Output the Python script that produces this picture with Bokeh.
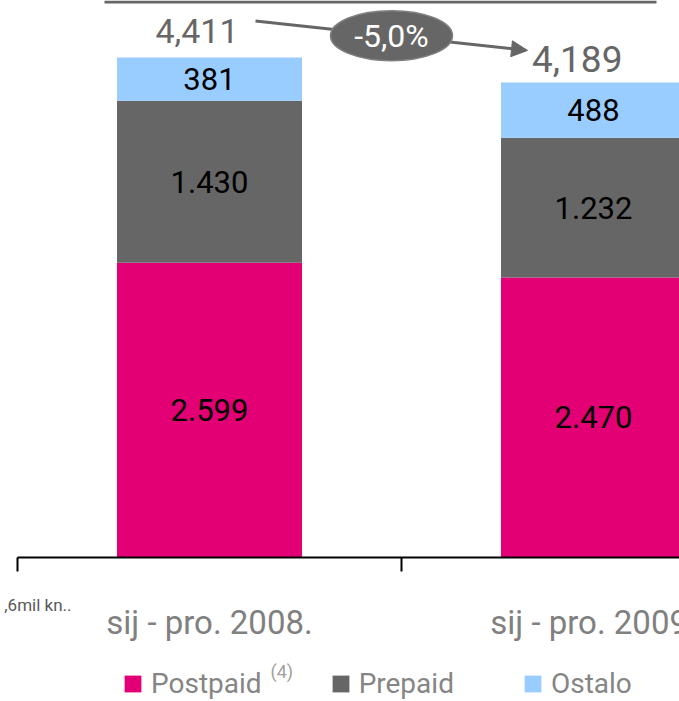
from bokeh.plotting import figure
from bokeh.models import (Range1d, ColumnDataSource, Legend, LegendItem, Label,
                          Arrow, NormalHead, BoxAnnotation)
from bokeh.core.properties import value
from bokeh.embed import file_html
from bokeh.resources import INLINE

# ---------------- data ----------------
categories = ["sij - pro. 2008.", "sij - pro. 2009."]
series_names = ["Postpaid", "Prepaid", "Ostalo"]
postpaid = [2599, 2470]
prepaid = [1430, 1232]
ostalo = [381, 488]
totals = [4411, 4189]
unit_note = ",6mil kn.."
footnote = "(4)"

# ---------------- style / layout ----------------
colors = ["#E20074", "#666666", "#99CCFF"]
W, H = 679, 701
CAT_PX = 384.0                  # pixels per category
Y_PX_PER_UNIT = 500.0 / 4410.0  # pixels per value unit
LEFT_PAD_PX = 17                # first category boundary, px from left edge
BASE_PX = 557                   # baseline, px from top edge

px_x = 1.0 / CAT_PX
px_y = 1.0 / Y_PX_PER_UNIT

p = figure(width=W, height=H,
           x_range=Range1d(-LEFT_PAD_PX * px_x, (W - LEFT_PAD_PX) * px_x),
           y_range=Range1d(-(H - BASE_PX) * px_y, BASE_PX * px_y),
           output_backend="svg", toolbar_location=None,
           x_axis_location=None, y_axis_location=None,
           min_border=0, outline_line_color=None,
           background_fill_color="white", border_fill_color="white")
p.grid.visible = False

xs = [i + 0.5 for i in range(len(categories))]
bounds = list(range(len(categories) + 1))
source = ColumnDataSource(dict(x=xs, Postpaid=postpaid, Prepaid=prepaid, Ostalo=ostalo))
renderers = p.vbar_stack(series_names, x="x", width=185 * px_x, fill_color=colors,
                         line_color=None, source=source)

# category axis: line, boundary ticks, labels
p.segment(x0=[bounds[0]], y0=[0], x1=[bounds[-1]], y1=[0],
          line_color="black", line_width=2)
p.segment(x0=bounds, y0=[0] * len(bounds), x1=bounds, y1=[-14 * px_y] * len(bounds),
          line_color="black", line_width=2)
p.text(x=xs, y=[-(621.5 - BASE_PX) * px_y] * len(xs), text=categories,
       text_align="center", text_baseline="middle",
       text_font=value("Roboto"), text_font_size="33px", text_color="#808080")

# segment labels
lx, ly, lt = [], [], []
tops = []
for i, xv in enumerate(xs):
    base = 0
    for s in (postpaid, prepaid, ostalo):
        v = s[i]
        lx.append(xv)
        ly.append(base + v / 2)
        lt.append(f"{v:,}".replace(",", "."))
        base += v
    tops.append(base)
p.text(x=lx, y=ly, text=lt, text_align="center", text_baseline="middle",
       text_font=value("Roboto"), text_font_size="31px", text_color="black")

# totals
total_dx_px = [-12.5, -16.3]
total_dy_px = [26.7, 23.1]
total_sizes = ["34px", "37px"]
tsrc = ColumnDataSource(dict(
    x=[xs[i] + total_dx_px[i] * px_x for i in range(len(xs))],
    y=[tops[i] + total_dy_px[i] * px_y for i in range(len(xs))],
    text=[f"{t:,}" for t in totals],
    size=total_sizes))
p.text(x="x", y="y", text="text", text_font_size="size", source=tsrc,
       text_align="center", text_baseline="middle",
       text_font=value("Roboto"), text_color="#666666")

# change arrow with ellipse badge
x0 = xs[0] + 46 * px_x
y0 = tops[0] + 36.5 * px_y
x1 = xs[1] - 66 * px_x
y1 = tops[1] + 32 * px_y
arrow = Arrow(end=NormalHead(size=16, fill_color="#666666", line_color="#666666"),
              x_start=x0, y_start=y0, x_end=x1, y_end=y1,
              line_color="#666666", line_width=3, level="underlay")
p.add_layout(arrow)
cx, cy = (x0 + x1) / 2, (y0 + y1) / 2
p.ellipse(x=[cx], y=[cy], width=122 * px_x, height=50 * px_y,
          fill_color="#666666", line_color="#808080", line_width=1.5)
pct = (totals[1] - totals[0]) / totals[0] * 100
p.text(x=[cx], y=[cy], text=[f"{pct:.1f}%".replace(".", ",")], text_align="center",
       text_baseline="middle", text_font=value("Roboto"), text_font_size="32px",
       text_color="white")

# cropped banner edge at the top
p.add_layout(BoxAnnotation(left=(104 - LEFT_PAD_PX) * px_x, right=(656 - LEFT_PAD_PX) * px_x,
                           top=BASE_PX * px_y, bottom=(BASE_PX - 3) * px_y,
                           fill_color="#666666", fill_alpha=1, line_color=None))

# small notes
p.add_layout(Label(x=(71 - LEFT_PAD_PX) * px_x, y=-(604 - BASE_PX) * px_y, text=unit_note,
                   text_align="right", text_baseline="middle", text_font="Roboto",
                   text_font_size="17px", text_color="#595959"))
p.add_layout(Label(x=(270 - LEFT_PAD_PX) * px_x, y=-(671 - BASE_PX) * px_y, text=footnote,
                   text_align="left", text_baseline="middle", text_font="Roboto",
                   text_font_size="18px", text_color="#a0a0a0"))

legend = Legend(items=[LegendItem(label=n, renderers=[r]) for n, r in zip(series_names, renderers)],
                orientation="horizontal", location=(122, 1),
                padding=0, margin=0, spacing=68, label_standoff=8,
                glyph_width=21, glyph_height=21, label_height=21,
                label_text_font="Roboto", label_text_font_size="28px",
                label_text_color="#858585", background_fill_alpha=0,
                border_line_color=None)
p.add_layout(legend)

open("out.html", "w").write(file_html(p, INLINE))
